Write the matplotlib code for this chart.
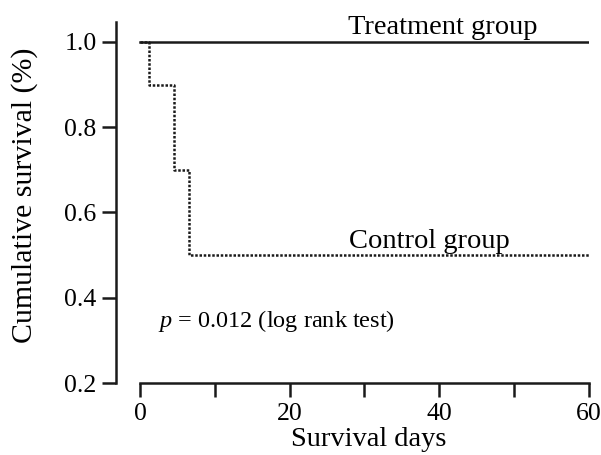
import matplotlib
matplotlib.use('Agg')
import matplotlib.pyplot as plt

# Kaplan-Meier style curves
treat_days = [0, 60]
treat_surv = [1.0, 1.0]
ctrl_days = [0, 1.2, 4.5, 6.6, 60]
ctrl_surv = [1.0, 0.9, 0.7, 0.5, 0.5]

x_major = [0, 20, 40, 60]
x_minor = [10, 30, 50]
y_ticks = [0.2, 0.4, 0.6, 0.8, 1.0]

plt.rcParams['font.family'] = ['Liberation Serif', 'DejaVu Serif']
plt.rcParams['mathtext.fontset'] = 'custom'
plt.rcParams['mathtext.it'] = 'Liberation Serif:italic'
plt.rcParams['mathtext.rm'] = 'Liberation Serif'

fig = plt.figure(figsize=(6.01, 4.55), dpi=100)
ax = fig.add_axes([0.193, 0.158, 0.787, 0.794])

ax.step(treat_days, treat_surv, where='post', color='#1a1a1a', lw=1.8)
ax.step(ctrl_days, ctrl_surv, where='post', color='#1a1a1a', lw=1.8,
        linestyle=(0, (1, 0.7)))

ax.set_xlim(-3.2, 60)
ax.set_ylim(0.2, 1.047)
ax.spines['top'].set_visible(False)
ax.spines['right'].set_visible(False)
for s in ['left', 'bottom']:
    ax.spines[s].set_linewidth(1.8)
    ax.spines[s].set_color('#1a1a1a')
ax.spines['bottom'].set_bounds(0, 60)

ax.set_xticks(x_major)
ax.set_xticks(x_minor, minor=True)
ax.set_yticks(y_ticks)
ax.set_yticklabels(['%.1f' % v for v in y_ticks])
ax.tick_params(which='both', direction='out', length=10, width=1.8,
               color='#1a1a1a', labelsize=18.5, pad=4)

ax.set_xlabel('Survival days', fontsize=20.5)
ax.xaxis.set_label_coords(0.535, -0.122)
ax.set_ylabel('Cumulative survival (%)', fontsize=21.5)
ax.yaxis.set_label_coords(-0.165, 0.52)

ax.text(40.4, 1.019, 'Treatment group', fontsize=20.5, ha='center', va='baseline')
ax.text(38.7, 0.516, 'Control group', fontsize=20.5, ha='center', va='baseline')
ax.text(2.4, 0.332, '$p$ = 0.012 (log rank test)', fontsize=17.5, ha='left', va='baseline')

fig.savefig('out.png', dpi=100)
